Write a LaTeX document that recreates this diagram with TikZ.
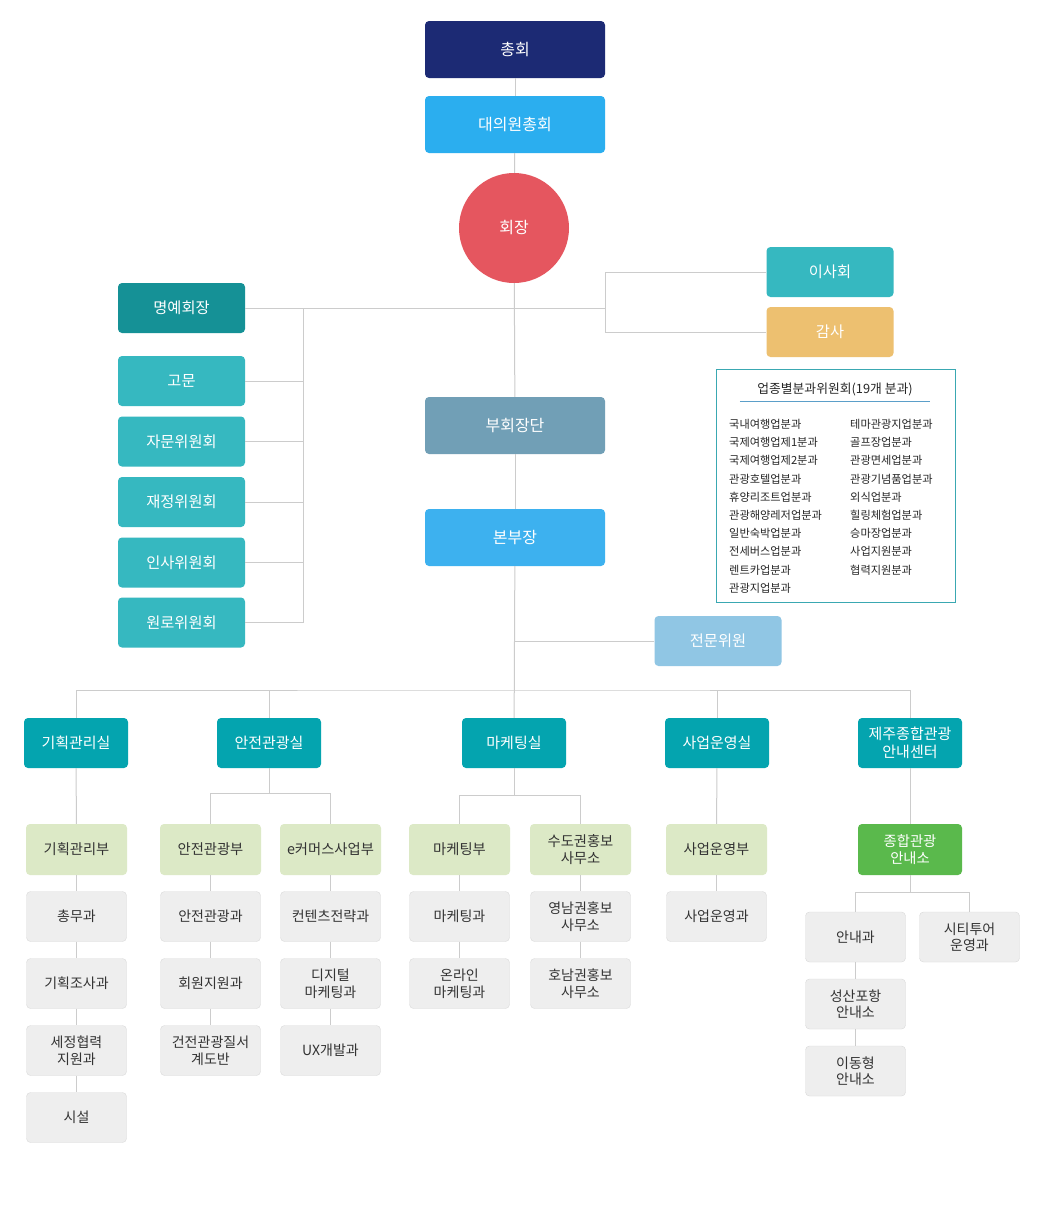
\documentclass[tikz,border=0pt]{standalone}
\usepackage{fontspec}
\setmainfont{Noto Sans CJK KR}

\definecolor{linecol}{HTML}{CCCCCC}
\definecolor{chongcol}{HTML}{1C2A74}
\definecolor{daeuicol}{HTML}{2BAEEF}
\definecolor{hoejangcol}{HTML}{E5565F}
\definecolor{myeongcol}{HTML}{159196}
\definecolor{sidecol}{HTML}{36B8C0}
\definecolor{gamsacol}{HTML}{EDC070}
\definecolor{buhoecol}{HTML}{719FB6}
\definecolor{bonbucol}{HTML}{3DB1EF}
\definecolor{jeonmuncol}{HTML}{90C6E4}
\definecolor{silcol}{HTML}{04A4AF}
\definecolor{bucol}{HTML}{DCE9C6}
\definecolor{jonghapcol}{HTML}{5AB94C}
\definecolor{gwacol}{HTML}{EEEEEE}
\definecolor{gwaline}{HTML}{DADADA}
\definecolor{textcol}{HTML}{333333}
\definecolor{bungwacol}{HTML}{3AA8B2}
\definecolor{underlinecol}{HTML}{5B9FC9}

\tikzset{
  conn/.style={draw=linecol, line width=1pt},
  topbox/.style={rectangle, rounded corners=4pt, minimum width=180pt,
    minimum height=57pt, inner sep=0pt, text=white,
    font=\fontsize{16}{19}\selectfont},
  sidebox/.style={rectangle, rounded corners=4pt, minimum width=127pt,
    minimum height=50pt, inner sep=0pt, text=white,
    font=\fontsize{15.3}{18}\selectfont},
  silbox/.style={rectangle, rounded corners=4pt, minimum width=104pt,
    minimum height=50pt, inner sep=0pt, fill=silcol, text=white, align=center,
    font=\fontsize{15}{18}\selectfont},
  bubox/.style={rectangle, rounded corners=4pt, minimum width=101pt,
    minimum height=51pt, inner sep=0pt, fill=bucol, text=textcol, align=center,
    font=\fontsize{14.3}{16.5}\selectfont},
  gwabox/.style={rectangle, rounded corners=4pt, minimum width=100pt,
    minimum height=50pt, inner sep=0pt, fill=gwacol, draw=gwaline, text=textcol,
    align=center, font=\fontsize{14}{16.5}\selectfont},
  listtext/.style={inner sep=0pt, align=left, anchor=north west, text=black!85,
    font=\fontsize{11.2}{18.2}\selectfont}
}

\begin{document}
\begin{tikzpicture}[x=1pt,y=-1pt]

  \useasboundingbox (0,0) rectangle (1046,1210);
  \fill[white] (0,0) rectangle (1046,1210);

  % top of the chart
  \node (chonghoe) at (515,49.5) [topbox,fill=chongcol] {총회};
  \node (daeuiwon) at (515,124.5) [topbox,fill=daeuicol] {대의원총회};
  \node (hoejang) at (514,228) [circle,fill=hoejangcol,minimum size=110pt,
    text=white,font=\fontsize{16}{19}\selectfont] {회장};
  \node (buhoe) at (515,425.5) [topbox,fill=buhoecol] {부회장단};
  \node (bonbu) at (515,537.5) [topbox,fill=bonbucol] {본부장};

  % left side
  \node (myeongye) at (181.5,308) [sidebox,fill=myeongcol] {명예회장};
  \node (gomun) at (181.5,381) [sidebox,fill=sidecol] {고문};
  \node (jamun) at (181.5,441.5) [sidebox,fill=sidecol] {자문위원회};
  \node (jaejeong) at (181.5,502) [sidebox,fill=sidecol] {재정위원회};
  \node (insa) at (181.5,562.5) [sidebox,fill=sidecol] {인사위원회};
  \node (wonro) at (181.5,622.5) [sidebox,fill=sidecol] {원로위원회};

  % right side
  \node (isa) at (830,272) [sidebox,fill=sidecol] {이사회};
  \node (gamsa) at (830,332) [sidebox,fill=gamsacol] {감사};
  \node (jeonmun) at (718,641) [sidebox,fill=jeonmuncol] {전문위원};

  \node (bungwa) at (835.5,485.5) [draw=bungwacol,line width=1pt,
    minimum width=239pt,minimum height=233pt] {};
  \node (bungwatitle) at (835,389) [inner xsep=0pt,inner ysep=5.5pt,
    minimum width=190pt,font=\fontsize{12.8}{15}\selectfont,text=black!85]
    {업종별분과위원회(19개 분과)};
  \draw[underlinecol,line width=1pt] (bungwatitle.south west) -- (bungwatitle.south east);
  \node (bungwaleft) at (729,419) [listtext] {국내여행업분과\\국제여행업제1분과\\
    국제여행업제2분과\\관광호텔업분과\\휴양리조트업분과\\관광해양레저업분과\\
    일반숙박업분과\\전세버스업분과\\렌트카업분과\\관광지업분과};
  \node (bungwaright) at (850,419) [listtext] {테마관광지업분과\\골프장업분과\\
    관광면세업분과\\관광기념품업분과\\외식업분과\\힐링체험업분과\\
    승마장업분과\\사업지원분과\\협력지원분과};

  % offices
  \node (gihoeksil) at (76,743) [silbox] {기획관리실};
  \node (anjeonsil) at (269,743) [silbox] {안전관광실};
  \node (maketingsil) at (514,743) [silbox] {마케팅실};
  \node (saeopsil) at (717,743) [silbox] {사업운영실};
  \node (jejusil) at (910,743) [silbox] {제주종합관광\\안내센터};

  % departments
  \node (gihoekbu) at (76.5,849.5) [bubox] {기획관리부};
  \node (anjeonbu) at (210.5,849.5) [bubox] {안전관광부};
  \node (ecommerce) at (330.5,849.5) [bubox] {e커머스사업부};
  \node (maketingbu) at (459.5,849.5) [bubox] {마케팅부};
  \node (sudogwon) at (580.5,849.5) [bubox] {수도권홍보\\사무소};
  \node (saeopbu) at (716.5,849.5) [bubox] {사업운영부};
  \node (jonghap) at (910,849.5) [bubox,minimum width=104pt,fill=jonghapcol,
    text=white] {종합관광\\안내소};

  % teams
  \node (chongmu) at (76.5,916.5) [gwabox] {총무과};
  \node (josa) at (76.5,983.5) [gwabox] {기획조사과};
  \node (sejeong) at (76.5,1050.5) [gwabox] {세정협력\\지원과};
  \node (siseol) at (76.5,1117.5) [gwabox] {시설};

  \node (anjeongwa) at (210.5,916.5) [gwabox] {안전관광과};
  \node (hoewon) at (210.5,983.5) [gwabox] {회원지원과};
  \node (geonjeon) at (210.5,1050.5) [gwabox] {건전관광질서\\계도반};

  \node (contents) at (330.5,916.5) [gwabox] {컨텐츠전략과};
  \node (digital) at (330.5,983.5) [gwabox] {디지털\\마케팅과};
  \node (ux) at (330.5,1050.5) [gwabox] {UX개발과};

  \node (maketinggwa) at (459.5,916.5) [gwabox] {마케팅과};
  \node (online) at (459.5,983.5) [gwabox] {온라인\\마케팅과};

  \node (yeongnam) at (580.5,916.5) [gwabox] {영남권홍보\\사무소};
  \node (honam) at (580.5,983.5) [gwabox] {호남권홍보\\사무소};

  \node (saeopgwa) at (716.5,916.5) [gwabox] {사업운영과};

  \node (annaegwa) at (855.5,937) [gwabox] {안내과};
  \node (citytour) at (969.5,937) [gwabox] {시티투어\\운영과};
  \node (seongsan) at (855.5,1004) [gwabox] {성산포항\\안내소};
  \node (idong) at (855.5,1071) [gwabox] {이동형\\안내소};

  % connectors
  \coordinate (lbar) at (303,0);
  \coordinate (rbar) at (605,0);
  \coordinate (bus) at (514,690);
  \coordinate (asplit) at (269,793);
  \coordinate (msplit) at (514,795);
  \coordinate (jsplit) at (910,892);

  \draw[conn] (chonghoe) -- (daeuiwon);
  \draw[conn] (daeuiwon) -- (hoejang);
  \draw[conn] (hoejang) -- (buhoe);
  \draw[conn] (buhoe) -- (bonbu);
  \draw[conn] (bonbu) -- (maketingsil);

  \draw[conn] (myeongye.east) -- (rbar |- myeongye.east);
  \draw[conn] (lbar |- myeongye.east) -- (lbar |- wonro.east);
  \draw[conn] (gomun.east) -- (lbar |- gomun.east);
  \draw[conn] (jamun.east) -- (lbar |- jamun.east);
  \draw[conn] (jaejeong.east) -- (lbar |- jaejeong.east);
  \draw[conn] (insa.east) -- (lbar |- insa.east);
  \draw[conn] (wonro.east) -- (lbar |- wonro.east);

  \draw[conn] (isa.west) -| (rbar |- gamsa.west) -- (gamsa.west);
  \draw[conn] (jeonmun.west) -- (bonbu |- jeonmun.west);

  \draw[conn] (gihoeksil.north) |- (bus) -| (jejusil.north);
  \draw[conn] (anjeonsil.north) -- (anjeonsil.north |- bus);
  \draw[conn] (saeopsil.north) -- (saeopsil.north |- bus);

  \draw[conn] (gihoeksil) -- (gihoekbu);
  \draw[conn] (anjeonsil) -- (asplit);
  \draw[conn] (anjeonbu.north) |- (asplit) -| (ecommerce.north);
  \draw[conn] (maketingsil) -- (msplit);
  \draw[conn] (maketingbu.north) |- (msplit) -| (sudogwon.north);
  \draw[conn] (saeopsil) -- (saeopbu);
  \draw[conn] (jejusil) -- (jonghap);
  \draw[conn] (jonghap) -- (jsplit);
  \draw[conn] (annaegwa.north) |- (jsplit) -| (citytour.north);

  \draw[conn] (gihoekbu) -- (chongmu);
  \draw[conn] (chongmu) -- (josa);
  \draw[conn] (josa) -- (sejeong);
  \draw[conn] (sejeong) -- (siseol);
  \draw[conn] (anjeonbu) -- (anjeongwa);
  \draw[conn] (anjeongwa) -- (hoewon);
  \draw[conn] (hoewon) -- (geonjeon);
  \draw[conn] (ecommerce) -- (contents);
  \draw[conn] (contents) -- (digital);
  \draw[conn] (digital) -- (ux);
  \draw[conn] (maketingbu) -- (maketinggwa);
  \draw[conn] (maketinggwa) -- (online);
  \draw[conn] (sudogwon) -- (yeongnam);
  \draw[conn] (yeongnam) -- (honam);
  \draw[conn] (saeopbu) -- (saeopgwa);
  \draw[conn] (annaegwa) -- (seongsan);
  \draw[conn] (seongsan) -- (idong);

\end{tikzpicture}
\end{document}
